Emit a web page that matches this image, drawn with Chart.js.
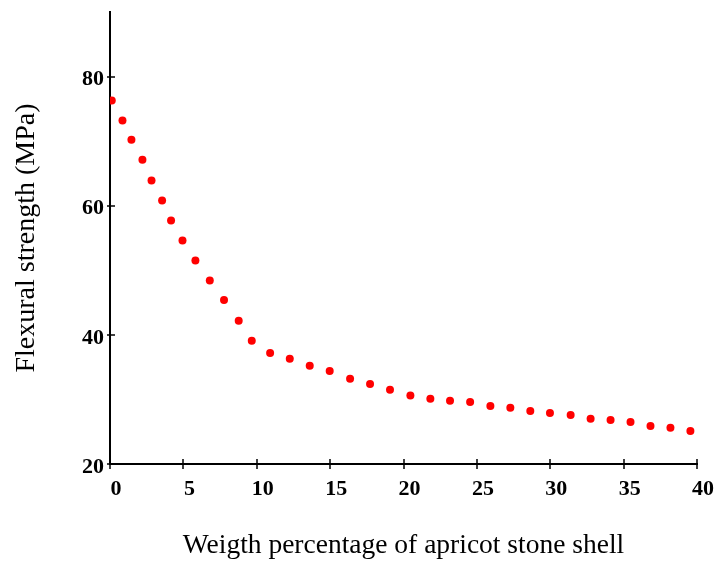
<!DOCTYPE html>
<html>
<head>
<meta charset="utf-8">
<script src="https://cdn.jsdelivr.net/npm/chart.js@4"></script>
<style>
    html, body { margin: 0; padding: 0; background: #fff; }
    #wrap { width: 718px; height: 562px; }
</style>
</head>
<body>
<div id="wrap"><canvas id="strength-chart"></canvas></div>
<script>
(function () {
    "use strict";

    // Data
    const shellWeight = [
        0.12, 0.85, 1.46, 2.21, 2.83, 3.55, 4.16, 4.94, 5.82, 6.8,
        7.77, 8.77, 9.66, 10.91, 12.25, 13.61, 14.97, 16.36, 17.72, 19.08,
        20.47, 21.83, 23.17, 24.54, 25.92, 27.28, 28.64, 29.98, 31.39, 32.75,
        34.11, 35.47, 36.83, 38.19, 39.55,
    ];
    const flexuralStrength = [
        76.3, 73.2, 70.2, 67.1, 63.9, 60.8, 57.7, 54.6, 51.5, 48.4,
        45.4, 42.2, 39.1, 37.2, 36.3, 35.2, 34.4, 33.2, 32.4, 31.5,
        30.6, 30.1, 29.8, 29.6, 29.0, 28.7, 28.2, 27.9, 27.6, 27.0,
        26.8, 26.5, 25.9, 25.6, 25.1,
    ];
    const xTicks = [0, 5, 10, 15, 20, 25, 30, 35, 40];
    const yTicks = [20, 40, 60, 80];

    const serif = "'Liberation Serif', 'Times New Roman', serif";

    // Ticks crossing the axis lines
    const crossTicks = {
        id: "crossTicks",
        afterDraw(chart) {
            const { ctx, scales: { x, y } } = chart;
            ctx.save();
            ctx.strokeStyle = "#000";
            ctx.lineWidth = 1.5;
            ctx.beginPath();
            xTicks.forEach((v) => {
                const px = Math.round(x.getPixelForValue(v));
                ctx.moveTo(px, y.bottom - 5);
                ctx.lineTo(px, y.bottom + 5);
            });
            yTicks.forEach((v) => {
                const py = Math.round(y.getPixelForValue(v));
                ctx.moveTo(x.left - 3, py);
                ctx.lineTo(x.left + 5, py);
            });
            ctx.stroke();
            ctx.restore();
        },
    };

    const ctx = document.getElementById("strength-chart").getContext("2d");
    new Chart(ctx, {
        type: "scatter",
        data: {
            datasets: [
                {
                    data: shellWeight.map((w, i) => ({ x: w, y: flexuralStrength[i] })),
                    backgroundColor: "#ff0000",
                    borderWidth: 0,
                    pointRadius: 4,
                    pointHoverRadius: 4,
                },
            ],
        },
        options: {
            responsive: true,
            maintainAspectRatio: false,
            animation: false,
            layout: {
                padding: { top: 12, right: 21, bottom: 0, left: 0 },
            },
            plugins: {
                legend: { display: false },
                tooltip: { enabled: false },
            },
            scales: {
                x: {
                    type: "linear",
                    min: 0,
                    max: 40,
                    afterBuildTicks: (scale) => {
                        scale.ticks = xTicks.map((v) => ({ value: v }));
                    },
                    afterFit: (scale) => {
                        scale.height = 98;
                        scale.paddingLeft = 0;
                        scale.paddingRight = 0;
                    },
                    grid: { display: false, drawTicks: false },
                    border: { display: true, color: "#000", width: 2 },
                    ticks: {
                        color: "#000",
                        padding: 12,
                        labelOffset: 6,
                        maxRotation: 0,
                        font: { family: serif, size: 22, weight: "bold" },
                    },
                    title: {
                        display: true,
                        text: "Weigth percentage of apricot stone shell",
                        color: "#000",
                        padding: { top: 0, bottom: 2 },
                        font: { family: serif, size: 27.5, lineHeight: 1 },
                    },
                },
                y: {
                    min: 20,
                    max: 90,
                    afterBuildTicks: (scale) => {
                        scale.ticks = yTicks.map((v) => ({ value: v }));
                    },
                    afterFit: (scale) => {
                        scale.width = 110;
                        scale.paddingTop = 0;
                        scale.paddingBottom = 0;
                    },
                    grid: { display: false, drawTicks: false },
                    border: { display: true, color: "#000", width: 2 },
                    ticks: {
                        color: "#000",
                        padding: 6,
                        labelOffset: 3,
                        font: { family: serif, size: 22, weight: "bold" },
                    },
                    title: {
                        display: true,
                        text: "Flexural strength (MPa)",
                        color: "#000",
                        padding: { top: 13, bottom: 0 },
                        font: { family: serif, size: 28, lineHeight: 1 },
                    },
                },
            },
        },
        plugins: [crossTicks],
    });
})();
</script>
</body>
</html>
